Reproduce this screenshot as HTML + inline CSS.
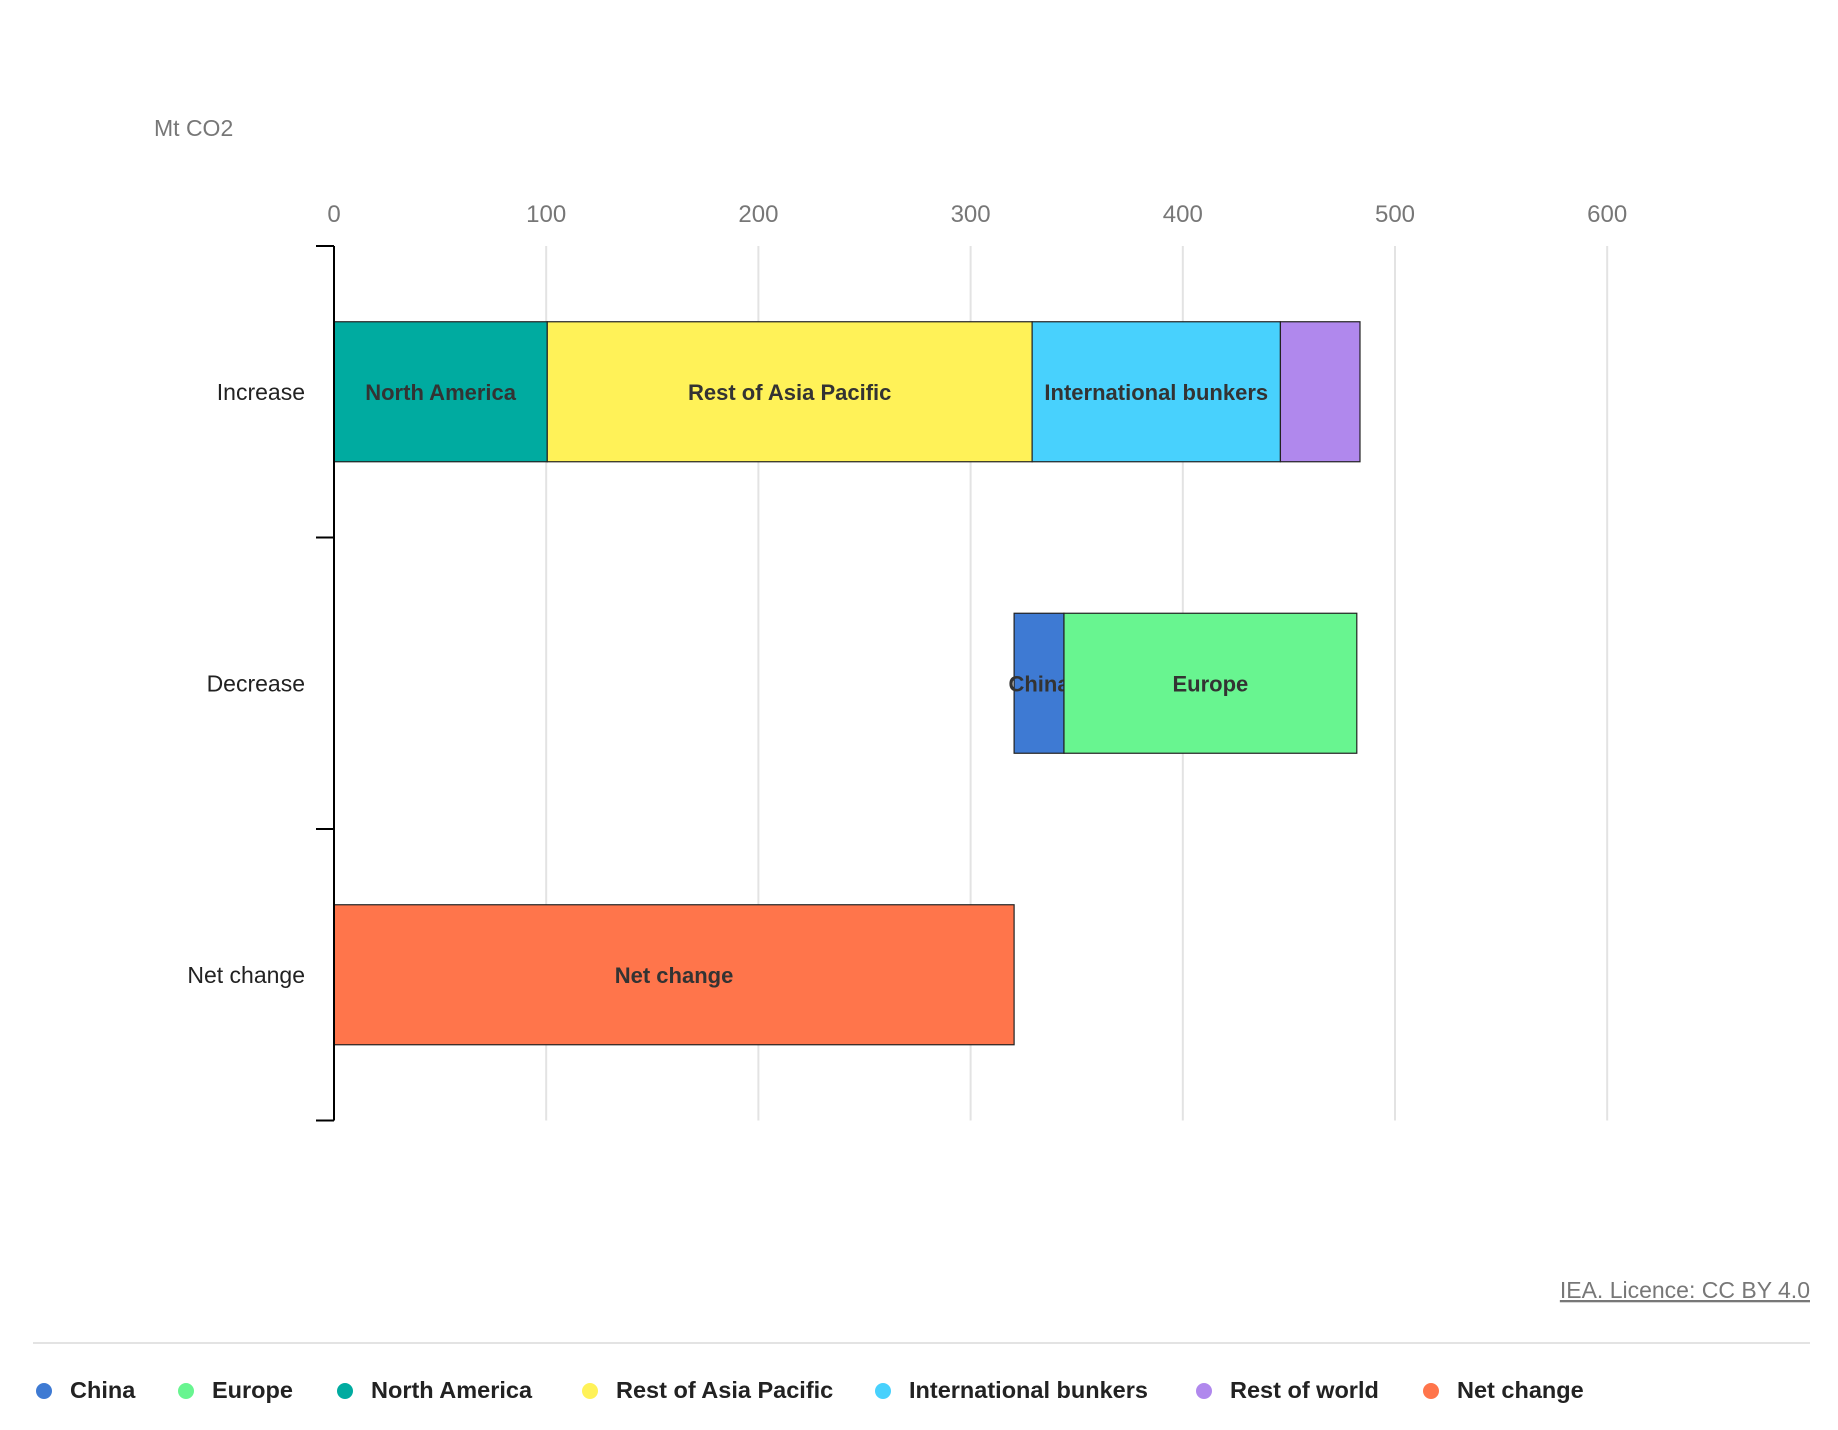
<!DOCTYPE html>
<html><head><meta charset="utf-8"><style>
body{margin:0;background:#fff;font-family:"Liberation Sans",sans-serif;}
svg{display:block}
</style></head><body>
<svg width="1838" height="1430" xmlns="http://www.w3.org/2000/svg">
<text x="154" y="136" font-size="23" fill="#777">Mt CO2</text>
<g id="grid"></g><g id="bars"></g><g id="axis"></g>
<text x="1810" y="1298" font-size="23" fill="#777" text-anchor="end" text-decoration="underline">IEA. Licence: CC BY 4.0</text>
<line x1="33" x2="1810" y1="1343" y2="1343" stroke="#e3e3e3" stroke-width="2"/>
<g id="legend"></g>
</svg>
<script>
const ticks=[0,100,200,300,400,500,600];
const categories=["Increase","Decrease","Net change"];
const segNames=[["North America","Rest of Asia Pacific","International bunkers","Rest of world"],["China","Europe"],["Net change"]];
const segStarts=[[0,100.5,329,446],[320.5,344],[0]];
const segValues=[[100.5,228.5,117,37.5],[23.5,138],[320.5]];
const segLabels=[["North America","Rest of Asia Pacific","International bunkers",""],["China","Europe"],["Net change"]];
const legendNames=["China","Europe","North America","Rest of Asia Pacific","International bunkers","Rest of world","Net change"];
const colors={"China":"#3e7ad3","Europe":"#68f590","North America":"#00aba0","Rest of Asia Pacific":"#fff258","International bunkers":"#48d1fd","Rest of world":"#b088ed","Net change":"#ff754b"};
const NS="http://www.w3.org/2000/svg";
const x=v=>334+v*212.2/100;
const bandTop=246,bandH=291.5;
const yc=i=>bandTop+bandH*(i+0.5);
function mk(t,a,p){const e=document.createElementNS(NS,t);for(const k in a)e.setAttribute(k,a[k]);p.appendChild(e);return e;}
const grid=document.getElementById('grid'),bars=document.getElementById('bars'),axis=document.getElementById('axis'),legend=document.getElementById('legend');
ticks.forEach(t=>{
 if(t>0){const l=mk('line',{x1:x(t),x2:x(t),y1:bandTop,y2:bandTop+bandH*3,stroke:'#e3e3e3','stroke-width':2},grid);
 
 }
 const tx=mk('text',{x:x(t),y:222,'font-size':24,fill:'#777','text-anchor':'middle'},grid);tx.textContent=t;
 
 
});
categories.forEach((c,i)=>{
 const tx=mk('text',{x:305,y:yc(i)+8,'font-size':23,fill:'#222','text-anchor':'end'},axis);tx.textContent=c;
 
 
 segNames[i].forEach((n,j)=>{
  const x0=x(segStarts[i][j]),w=x(segStarts[i][j]+segValues[i][j])-x0;
  const r=mk('rect',{x:x0,y:yc(i)-70,width:w,height:140,fill:colors[n],stroke:'#222','stroke-width':1.2},bars);
  
  
  if(segLabels[i][j]){const t=mk('text',{x:x0+w/2,y:yc(i)+8,'font-size':22,'font-weight':'bold',fill:'#333','text-anchor':'middle'},bars);t.textContent=segLabels[i][j];
  
  }
 });
});
const al=mk('line',{x1:334,x2:334,y1:bandTop,y2:bandTop+bandH*3,stroke:'#000','stroke-width':2},axis);


for(let k=0;k<=3;k++){const l=mk('line',{x1:316,x2:334,y1:bandTop+bandH*k,y2:bandTop+bandH*k,stroke:'#000','stroke-width':2},axis);
 
 }
const lx=[44,186,345,590,883,1204,1431];
legendNames.forEach((n,i)=>{
 const c=mk('circle',{cx:lx[i],cy:1391,r:8,fill:colors[n]},legend);
 
 
 const t=mk('text',{x:lx[i]+26,y:1398,'font-size':23.5,'font-weight':'bold',fill:'#222'},legend);t.textContent=n;
 
 
});
</script>
</body></html>
